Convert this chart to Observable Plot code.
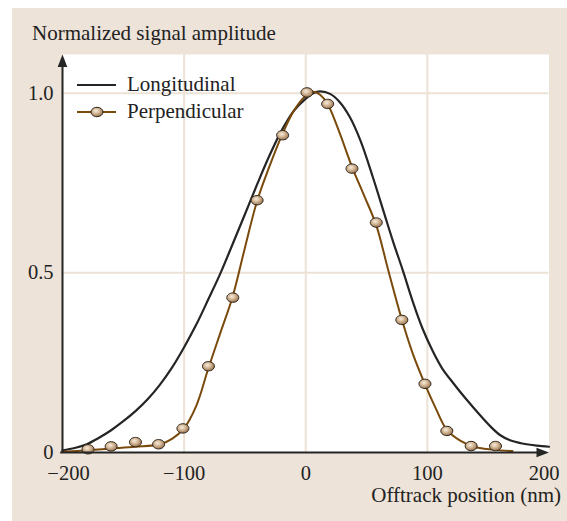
<!DOCTYPE html>
<html>
<head>
<meta charset="utf-8">
<script src="https://cdn.jsdelivr.net/npm/d3@7"></script>
<script src="https://cdn.jsdelivr.net/npm/@observablehq/plot@0.6"></script>
<style>
  html, body { margin: 0; padding: 0; background: #ffffff; }
  #wrap { position: relative; width: 567px; height: 521px; overflow: hidden; font-family: "Liberation Serif", "DejaVu Serif", serif; color: #222; }
  #panel { position: absolute; left: 12px; top: 8px; right: 0; bottom: 0; background: #ede3d8; }
  #chart { position: absolute; left: 0; top: 0; }
  .lbl { position: absolute; font-size: 21px; white-space: nowrap; line-height: 1; }
  #ylabel { left: 32px; top: 23px; }
  #xlabel { right: 6px; top: 485.5px; line-height: 0.9; }
  #legend { position: absolute; left: 70px; top: 66px; }
</style>
</head>
<body>
<div id="wrap">
  <div id="panel"></div>
  <div id="chart"></div>
  <div id="ylabel" class="lbl">Normalized signal amplitude</div>
  <div id="xlabel" class="lbl">Offtrack position (nm)</div>
  <svg id="legend" width="210" height="64"></svg>
</div>
<script>
// Longitudinal recording: offtrack profile (solid curve)
const longX = [-200, -190, -180, -170, -160, -150, -140, -130, -120, -110, -100, -90, -80, -70, -60, -50, -40, -30, -20, -10, 0, 6, 12, 20, 28, 36, 45, 55, 65, 72, 80, 88, 96, 104, 112, 122, 132, 143, 152, 160, 168, 178, 190, 200];
const longY = [0.006, 0.0125, 0.023, 0.041, 0.062, 0.087, 0.115, 0.148, 0.188, 0.236, 0.293, 0.356, 0.427, 0.50, 0.581, 0.663, 0.746, 0.825, 0.895, 0.95, 0.985, 1.0, 1.005, 0.998, 0.975, 0.935, 0.868, 0.768, 0.66, 0.585, 0.505, 0.42, 0.345, 0.285, 0.235, 0.19, 0.148, 0.105, 0.072, 0.048, 0.034, 0.025, 0.019, 0.016];

// Perpendicular recording: fitted curve
const perpX = [-200, -180, -160, -140, -120, -110, -100, -90, -80, -70, -60, -50, -40, -30, -20, -10, 0, 6, 12, 18, 28, 38, 48, 58, 68, 79, 88, 98, 107, 116, 127, 138, 154, 170];
const perpY = [0.002, 0.006, 0.011, 0.016, 0.023, 0.038, 0.068, 0.13, 0.235, 0.335, 0.435, 0.57, 0.70, 0.795, 0.88, 0.95, 0.993, 1.004, 0.995, 0.97, 0.888, 0.795, 0.715, 0.632, 0.505, 0.37, 0.275, 0.19, 0.122, 0.063, 0.033, 0.016, 0.008, 0.004];

// Perpendicular recording: measured points
const dotX = [-179, -160, -140, -121, -101, -80, -60, -40, -19, 1, 18, 38, 58, 79, 98, 116, 136, 156];
const dotY = [0.009, 0.017, 0.029, 0.023, 0.067, 0.24, 0.431, 0.702, 0.883, 1.002, 0.97, 0.79, 0.64, 0.369, 0.191, 0.06, 0.018, 0.018];

const xTicks = [-200, -100, 0, 100, 200];
const yTicks = [0, 0.5, 1.0];
const xDomain = [-200, 200];
const yDomain = [0, 1.1076];

const longData = longX.map((x, i) => ({x, y: longY[i]}));
const perpData = perpX.map((x, i) => ({x, y: perpY[i]}));
const dotData = dotX.map((x, i) => ({x, y: dotY[i]}));

const INK = "#252525";
const BROWN = "#7a4a0c";
const GRID = "#ece2d6";

// Bead marker: a slightly flattened ellipse
function ellipseSymbol(rx, ry) {
  const k = 0.5523;
  return {
    draw(ctx) {
      ctx.moveTo(rx, 0);
      ctx.bezierCurveTo(rx, k * ry, k * rx, ry, 0, ry);
      ctx.bezierCurveTo(-k * rx, ry, -rx, k * ry, -rx, 0);
      ctx.bezierCurveTo(-rx, -k * ry, -k * rx, -ry, 0, -ry);
      ctx.bezierCurveTo(k * rx, -ry, rx, -k * ry, rx, 0);
      ctx.closePath();
    }
  };
}
const bead = ellipseSymbol(6, 4.7);

// Filled arrowhead with its tip at the anchor point, pointing up
const arrowHead = {
  draw(ctx) {
    ctx.moveTo(0, 0);
    ctx.lineTo(4.8, 12.5);
    ctx.lineTo(-4.8, 12.5);
    ctx.closePath();
  }
};

const fmtY = d => d === 0 ? "0" : d.toFixed(1);

const chart = Plot.plot({
  width: 567,
  height: 521,
  marginLeft: 62,
  marginRight: 18.5,
  marginTop: 54,
  marginBottom: 69,
  style: {fontFamily: "'Liberation Serif', serif", fontSize: "20.5px", background: "transparent", color: "#222"},
  x: {domain: xDomain},
  y: {domain: yDomain},
  marks: [
    Plot.frame({fill: "white", stroke: "none"}),
    Plot.gridX([-100, 0, 100], {stroke: GRID, strokeOpacity: 1, strokeWidth: 2}),
    Plot.gridY([0.5, 1.0], {stroke: GRID, strokeOpacity: 1, strokeWidth: 2}),
    Plot.axisX([-100, 0, 100], {tickSize: 0, tickPadding: 13, label: null, fill: "#222"}),
    Plot.axisX([xTicks[0]], {tickSize: 0, tickPadding: 13, label: null, dx: 6, fill: "#222"}),
    Plot.axisX([xTicks[4]], {tickSize: 0, tickPadding: 13, label: null, dx: -5, fill: "#222"}),
    Plot.axisY(yTicks, {tickSize: 0, tickPadding: 9, label: null, tickFormat: fmtY, fill: "#222"}),
    Plot.line(longData, {x: "x", y: "y", curve: "catmull-rom", stroke: INK, strokeWidth: 2.2}),
    Plot.line(perpData, {x: "x", y: "y", curve: "catmull-rom", stroke: BROWN, strokeWidth: 2}),
    Plot.dot(dotData, {x: "x", y: "y", symbol: bead, fill: "url(#bead)", stroke: "#2e241a", strokeWidth: 1}),
    Plot.ruleX([xDomain[0]], {y1: yDomain[0], y2: yDomain[1] * 0.98, stroke: INK, strokeWidth: 2}),
    Plot.ruleY([0], {x1: xDomain[0] - 1.5, x2: xDomain[1] - 4, stroke: INK, strokeWidth: 2}),
    Plot.dot([{x: xDomain[0], y: yDomain[1]}], {x: "x", y: "y", symbol: arrowHead, fill: INK, stroke: "none"}),
    Plot.dot([{x: xDomain[1], y: 0}], {x: "x", y: "y", symbol: arrowHead, rotate: 90, fill: INK, stroke: "none"})
  ]
});

// Shaded bead gradient
const NS = "http://www.w3.org/2000/svg";
function addBeadGradient(svg) {
  const defs = document.createElementNS(NS, "defs");
  const g = document.createElementNS(NS, "radialGradient");
  g.setAttribute("id", "bead");
  g.setAttribute("cx", "0.42");
  g.setAttribute("cy", "0.38");
  g.setAttribute("r", "0.62");
  [["0", "#f7ecdf"], ["0.45", "#d6bb9b"], ["1", "#9a7450"]].forEach(([o, c]) => {
    const s = document.createElementNS(NS, "stop");
    s.setAttribute("offset", o);
    s.setAttribute("stop-color", c);
    g.appendChild(s);
  });
  defs.appendChild(g);
  svg.insertBefore(defs, svg.firstChild);
}
addBeadGradient(chart);
document.getElementById("chart").appendChild(chart);

// Legend
const legend = d3.select("#legend");
addBeadGradient(legend.node());
const entries = [
  {label: "Longitudinal", color: INK, marker: false},
  {label: "Perpendicular", color: BROWN, marker: true}
];
entries.forEach((e, i) => {
  const y = 19 + i * 27;
  legend.append("line").attr("x1", 7).attr("x2", 46).attr("y1", y).attr("y2", y)
    .attr("stroke", e.color).attr("stroke-width", e.marker ? 2 : 2.2);
  if (e.marker) {
    const p = d3.path();
    bead.draw(p);
    legend.append("path").attr("transform", `translate(27,${y})`)
      .attr("d", p.toString())
      .attr("fill", "url(#bead)").attr("stroke", "#2e241a").attr("stroke-width", 1);
  }
  legend.append("text").attr("x", 57).attr("y", y).attr("dy", "0.3em")
    .attr("font-family", "'Liberation Serif', serif").attr("font-size", 21).attr("fill", "#222")
    .text(e.label);
});
</script>
</body>
</html>
